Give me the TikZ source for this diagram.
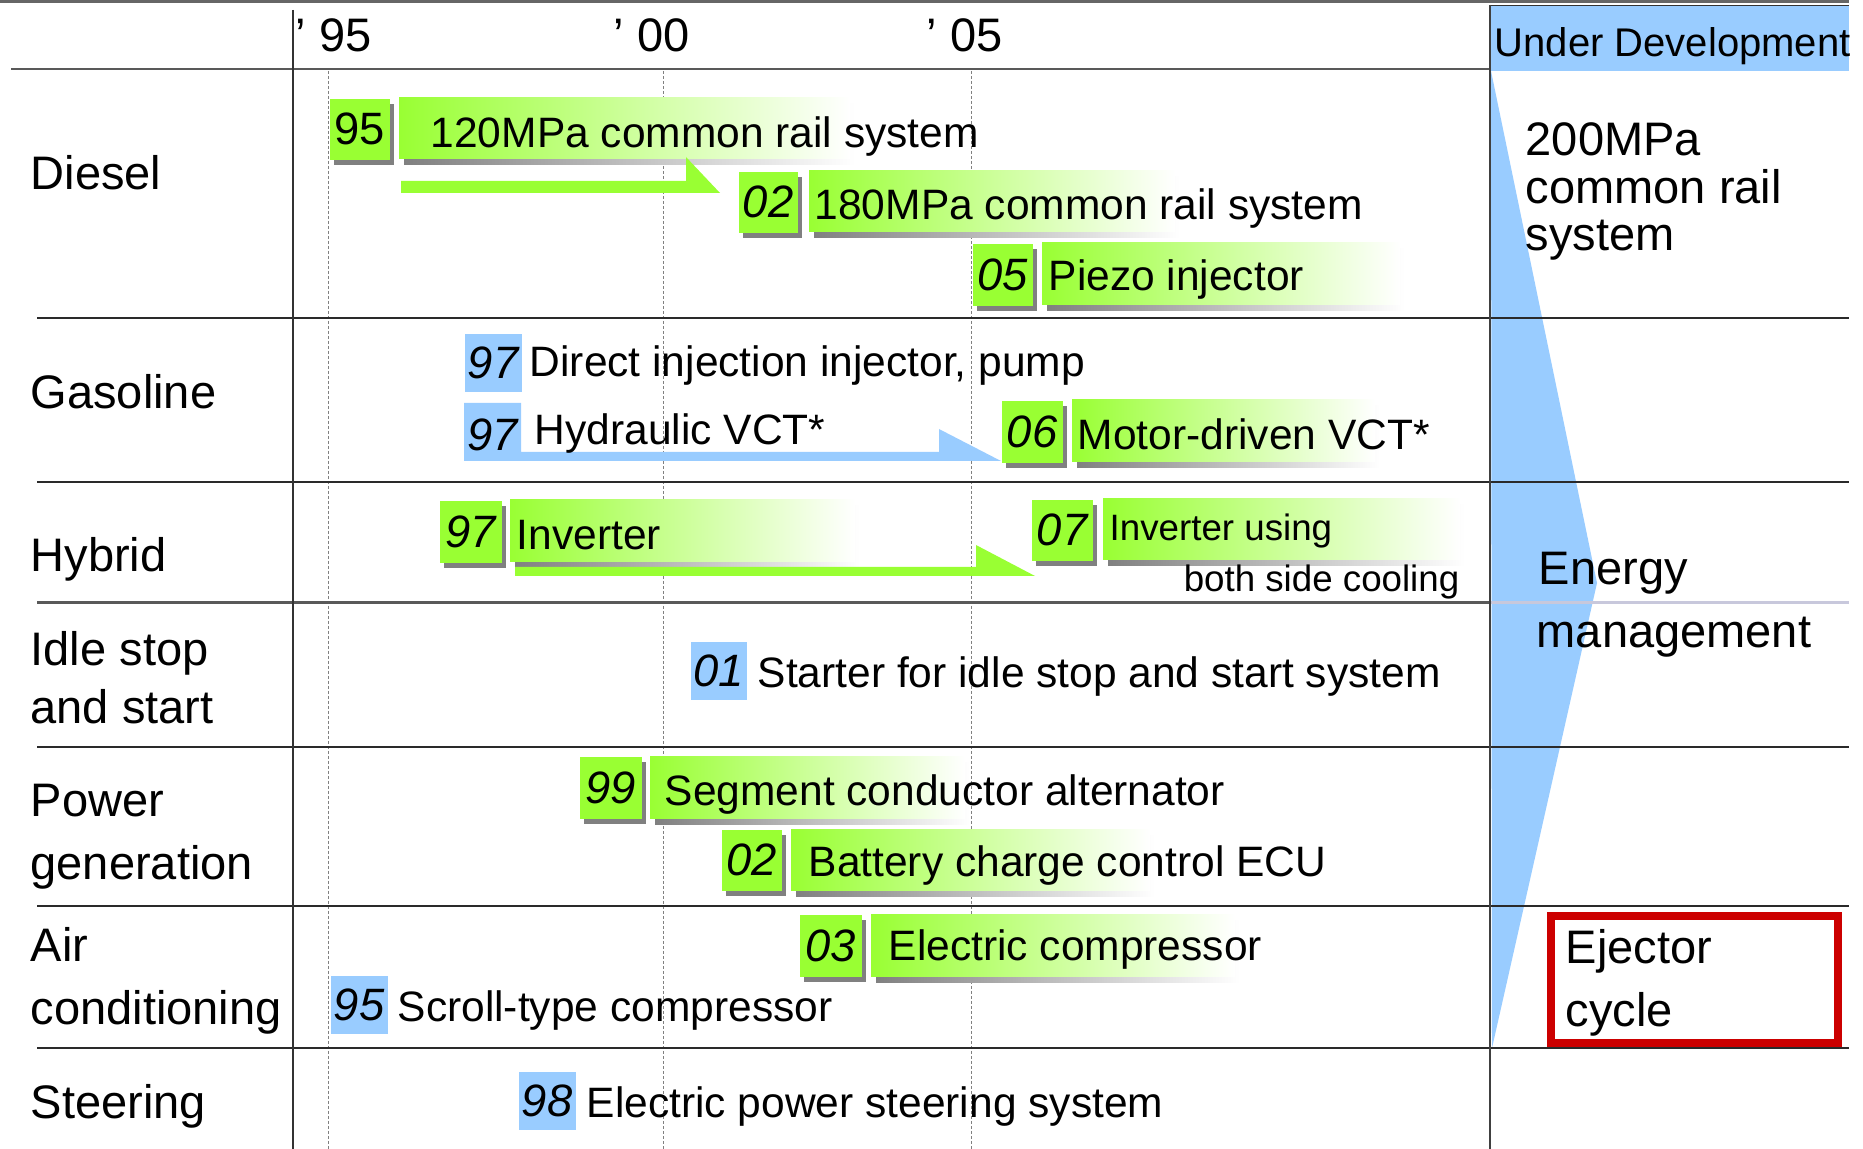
\documentclass[tikz,border=0pt]{standalone}
\usepackage{fontspec}
\setmainfont{Liberation Sans}
\newdimen\pxu \pxu=0.01cm
\definecolor{grn}{HTML}{99FF33}
\definecolor{blu}{HTML}{99CCFF}
\definecolor{shd}{HTML}{808080}
\definecolor{redb}{HTML}{CC0000}
\definecolor{lineg}{HTML}{2A2A2A}
\definecolor{lav}{HTML}{C8C8DC}
\newcommand{\FCat}{\fontsize{13.37}{16}\selectfont}
\newcommand{\FItem}{\fontsize{12.09}{14}\selectfont}
\newcommand{\FNum}{\fontsize{12.9}{15}\selectfont}
\newcommand{\FSmall}{\fontsize{10.44}{12}\selectfont}
\newcommand{\FUD}{\fontsize{11.38}{13}\selectfont}
\tikzset{
  numg/.style={fill=grn, inner sep=0, font=\FNum\itshape},
  numb/.style={fill=blu, inner sep=0, font=\FNum\itshape},
  itxt/.style={anchor=base west, inner sep=0, font=\FItem},
  cat/.style={anchor=base west, inner sep=0, font=\FCat},
  rowline/.style={draw=lineg, line width=2\pxu},
  dotl/.style={draw=shd, line width=1\pxu, dash pattern=on 3\pxu off 2\pxu},
  gshade/.style={left color=grn, right color=white},
  sshade/.style={left color=shd, right color=white},
}
\newcommand{\GNum}[6]{%
  \fill[shd] (#2+5,#3+6) rectangle ++(#4,#5);
  \node[numg, minimum width=#4\pxu, minimum height=#5\pxu, anchor=north west] (#1) at (#2,#3) {#6};}
\newcommand{\BNum}[6]{%
  \node[numb, minimum width=#4\pxu, minimum height=#5\pxu, anchor=north west] (#1) at (#2,#3) {#6};}
\newcommand{\GBar}[4]{%
  \shade[sshade] (#1+5,#2+6) rectangle (#3+5,#4+6);
  \shade[gshade] (#1,#2) rectangle (#3,#4);}
\begin{document}
\begin{tikzpicture}[x=0.01cm, y=-0.01cm]
\useasboundingbox (0,0) rectangle (1863,1149);
\fill[white] (0,0) rectangle (1863,1149);
% top bar
\fill[black!60] (0,0) rectangle (1849,3.5);
% blue column
\fill[blu] (1491,5) rectangle (1849,71);
\fill[blu] (1491,71) -- (1597,583) -- (1492,1048) -- cycle;
% dotted year lines
\foreach \x in {328,663,971} \draw[dotl] (\x,71) -- (\x,1149);
% grid lines
\draw[draw=black!65, line width=2.5\pxu] (11,69) -- (1490,69);
\draw[draw=black!80, line width=1.5\pxu] (1490,5.5) -- (1849,5.5);
\draw[rowline] (37,318) -- (1849,318);
\draw[rowline] (37,482) -- (1849,482);
\draw[draw=black!65, line width=3\pxu] (37,603) -- (1490,603);
\draw[draw=lav, line width=3\pxu] (1490,603) -- (1849,603);
\draw[rowline] (37,747) -- (1849,747);
\draw[rowline] (37,906) -- (1849,906);
\draw[rowline] (37,1048) -- (1849,1048);
\draw[draw=black!80, line width=2.5\pxu] (293,10) -- (293,1149);
\draw[draw=black!75, line width=2.5\pxu] (1490,5) -- (1490,1149);
% year labels
\node[cat] (y95) at (295,52) {’ 95};
\node[cat] (y00) at (613,52) {’ 00};
\node[cat] (y05) at (926,52) {’ 05};
% category labels
\node[cat] (cdiesel) at (30,190) {Diesel};
\node[cat] (cgas) at (30,409) {Gasoline};
\node[cat] (chyb) at (30,571) {Hybrid};
\node[cat] (cidle1) at (30,666) {Idle stop};
\node[cat] (cidle2) at (30,724) {and start};
\node[cat] (cpow1) at (30,817) {Power};
\node[cat] (cpow2) at (30,879) {generation};
\node[cat] (cair1) at (30,961) {Air};
\node[cat] (cair2) at (30,1024) {conditioning};
\node[cat] (cste) at (30,1118) {Steering};
% Diesel
\GNum{n95}{329}{98}{60}{61}{\upshape 95}
\GBar{399}{98}{850}{159}
\node[itxt] (t120) at (430,148) {120MPa common rail system};
\GNum{n02a}{738}{171}{59}{61}{02}
\GBar{809}{171}{1175}{232}
\node[itxt] (t180) at (814,220) {180MPa common rail system};
\fill[grn] (401,181) -- (686,181) -- (686,157) -- (720,193) -- (401,193) -- cycle;
\GNum{n05}{972}{243}{60}{62}{05}
\GBar{1042}{243}{1400}{305}
\node[itxt] (tpiezo) at (1048,291) {Piezo injector};
% Gasoline
\BNum{n97a}{464}{333}{57}{58}{97}
\node[itxt] (tdi) at (529,377) {Direct injection injector, pump};
\fill[blu] (464,403) -- (521,403) -- (521,452) -- (939,452) -- (939,429) -- (1001,461) -- (464,461) -- cycle;
\node[inner sep=0, font=\FNum\itshape] (n97b) at (492.5,435) {97};
\node[itxt] (thyd) at (534,445) {Hydraulic VCT*};
\GNum{n06}{1001}{400}{61}{62}{06}
\GBar{1072}{400}{1375}{462}
\node[itxt] (tmd) at (1077,450) {Motor-driven VCT*};
% Hybrid
\GNum{n97c}{439}{500}{62}{62}{97}
\GBar{510}{500}{855}{562}
\node[itxt] (tinv) at (516,550) {Inverter};
\fill[grn] (515,567) -- (976,567) -- (976,545) -- (1035,576) -- (515,576) -- cycle;
\GNum{n07}{1031}{499}{61}{61}{07}
\GBar{1103}{499}{1460}{560}
\node[itxt, font=\FSmall] (tinv2) at (1109,541) {Inverter using};
\node[anchor=base east, inner sep=0, font=\FSmall] (tinv3) at (1460,591) {both side cooling};
% Idle stop
\BNum{n01}{690}{641}{56}{58}{01}
\node[itxt] (tstart) at (757,687) {Starter for idle stop and start system};
% Power generation
\GNum{n99}{579}{756}{62}{62}{99}
\GBar{650}{756}{965}{818}
\node[itxt] (tseg) at (664,805) {Segment conductor alternator};
\GNum{n02b}{721}{829}{60}{61}{02}
\GBar{791}{829}{1150}{890}
\node[itxt] (tbat) at (808,876) {Battery charge control ECU};
% Air conditioning
\GNum{n03}{799}{914}{62}{62}{03}
\GBar{871}{914}{1235}{976}
\node[itxt] (tec) at (888,960) {Electric compressor};
\BNum{n95b}{330}{975}{57}{58}{95}
\node[itxt] (tscroll) at (397,1021) {Scroll-type compressor};
% Steering
\BNum{n98}{518}{1071}{57}{58}{98}
\node[itxt] (teps) at (586,1117) {Electric power steering system};
% Right column
\node[anchor=base west, inner sep=0, font=\FUD] (ud) at (1494,57) {Under Development};
\node[cat] (r1) at (1525,156) {200MPa};
\node[cat] (r2) at (1525,204) {common rail};
\node[cat] (r3) at (1525,251) {system};
\node[cat] (en1) at (1538,585) {Energy};
\node[cat] (en2) at (1536,648) {management};
\node[draw=redb, line width=8\pxu, minimum width=287\pxu, minimum height=127\pxu, inner sep=0] (ejbox) at (1694.5,979.5) {};
\node[cat] (ej1) at (1565,963) {Ejector};
\node[cat] (ej2) at (1565,1026) {cycle};
\end{tikzpicture}
\end{document}
